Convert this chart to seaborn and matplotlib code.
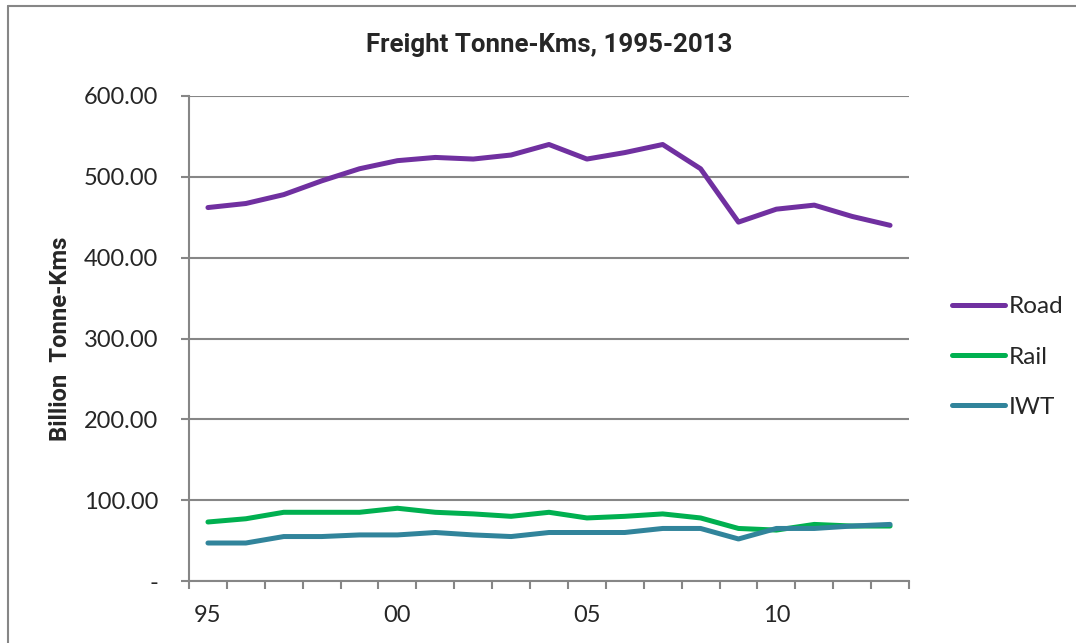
import matplotlib
matplotlib.use("Agg")
import matplotlib.pyplot as plt
import matplotlib.lines as mlines
import seaborn as sns
import pandas as pd
import numpy as np

years = list(range(1995, 2014))
year_labels = ["95", "00", "05", "10"]
road = [462, 467, 478, 495, 510, 520, 524, 522, 527, 540, 522, 530, 540, 510, 444, 460, 465, 451, 440]
rail = [73, 77, 85, 85, 85, 90, 85, 83, 80, 85, 78, 80, 83, 78, 65, 63, 70, 68, 68]
iwt = [47, 47, 55, 55, 57, 57, 60, 57, 55, 60, 60, 60, 65, 65, 52, 65, 65, 68, 70]
series_names = ["Road", "Rail", "IWT"]
colors = ["#7030A0", "#00B050", "#31849B"]

sns.set_style("white")
plt.rcParams["font.family"] = ["Lato", "DejaVu Sans"]
bold_family = ["Roboto", "DejaVu Sans"]

df = pd.DataFrame({
    "idx": list(range(len(years))) * 3,
    "value": road + rail + iwt,
    "mode": [s for s in series_names for _ in years],
})

fig = plt.figure(figsize=(10.76, 6.43), dpi=100)
ax = fig.add_axes([189/1076, 1-581/643, (909-189)/1076, (581-96)/643])

lw = 3.6
sns.lineplot(data=df, x="idx", y="value", hue="mode", palette=dict(zip(series_names, colors)),
             linewidth=lw, ax=ax, legend=False, solid_capstyle="round")

grid_c = "#868686"
ax.set_ylim(0, 600)
ax.set_xlim(-0.5, len(years) - 0.5)
ax.set_yticks(np.arange(0, 601, 100))
ax.set_yticklabels(["-"] + [f"{v:.2f}" for v in np.arange(100, 601, 100)])
ax.yaxis.grid(True, color=grid_c, linewidth=1.5)
ax.set_axisbelow(True)

ax.set_xticks(np.arange(-0.5, len(years), 1.0))
ax.set_xticklabels([])
ax.set_xticks([0, 5, 10, 15], minor=True)
ax.set_xticklabels(year_labels, minor=True)
ax.tick_params(axis="x", which="major", direction="out", length=6, width=1.5, color=grid_c, bottom=True)
ax.tick_params(axis="x", which="minor", length=0, pad=17, labelsize=17)
ax.tick_params(axis="y", which="major", direction="out", length=6, width=1.5, color=grid_c, left=True, pad=16, labelsize=17)

for s in ["top", "right"]:
    ax.spines[s].set_visible(False)
for s in ["left", "bottom"]:
    ax.spines[s].set_color(grid_c)
    ax.spines[s].set_linewidth(1.5)

ax.set_xlabel("")
ax.set_ylabel("Billion  Tonne-Kms", fontsize=17.2, fontweight="bold", family=bold_family)
ax.yaxis.set_label_coords(-117/720, 0.5)

fig.text(549/1076, 1-45/643, "Freight Tonne-Kms, 1995-2013", ha="center", va="center",
         fontsize=18.6, fontweight="bold", family=bold_family)

handles = [mlines.Line2D([], [], color=c, linewidth=lw, solid_capstyle="round") for c in colors]
leg = fig.legend(handles, series_names, loc="center left", bbox_to_anchor=(930/1076, 1-357/643),
                 frameon=False, fontsize=17.5, handlelength=2.2, handletextpad=0.15, labelspacing=1.2)

# chart-area border (top and left edges visible)
fig.add_artist(mlines.Line2D([8/1076, 1.0], [1-6/643, 1-6/643], color=grid_c, linewidth=1.5, transform=fig.transFigure))
fig.add_artist(mlines.Line2D([8/1076, 8/1076], [1-6/643, 0.0], color=grid_c, linewidth=1.5, transform=fig.transFigure))

fig.savefig("out.png", dpi=100)
